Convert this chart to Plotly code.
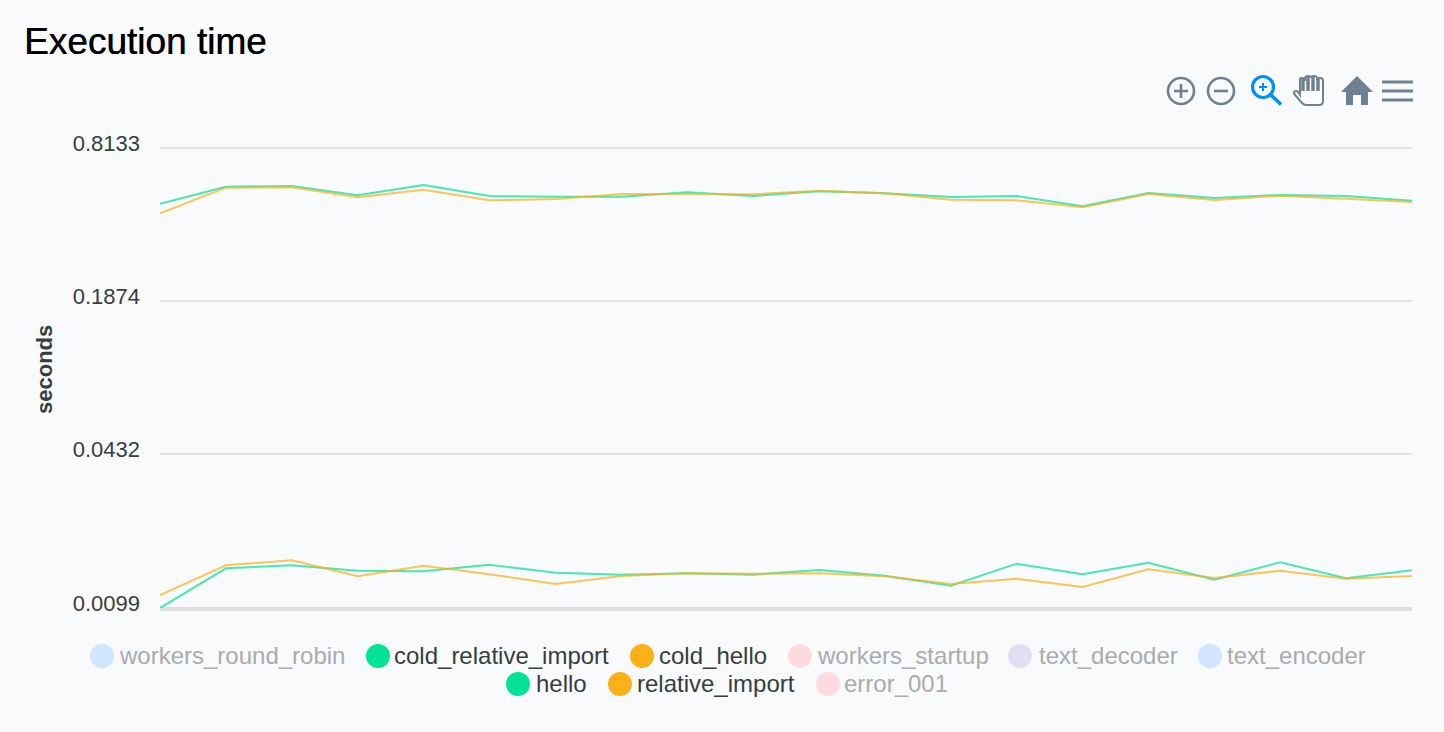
import base64
import plotly.graph_objects as go

TITLE = "Execution time"
Y_TITLE = "seconds"
runs = list(range(1, 21))
tick_vals = [0.8133, 0.1874, 0.0432, 0.0099]
tick_text = ["0.8133", "0.1874", "0.0432", "0.0099"]

cold_relative_import = [0.4769, 0.5613, 0.5651, 0.5169, 0.5705, 0.5135, 0.5100, 0.5100, 0.5320, 0.5135,
                        0.5370, 0.5268, 0.5085, 0.5135, 0.4651, 0.5284, 0.5037, 0.5184, 0.5135, 0.4908]
cold_hello = [0.4349, 0.5559, 0.5580, 0.5070, 0.5453, 0.4927, 0.4989, 0.5234, 0.5234, 0.5218,
              0.5402, 0.5268, 0.4955, 0.4927, 0.4607, 0.5234, 0.4941, 0.5148, 0.5003, 0.4847]
hello = [0.0099, 0.01448, 0.01491, 0.01415, 0.01407, 0.01499, 0.01389, 0.01362, 0.01381, 0.01362,
         0.01425, 0.01349, 0.01226, 0.01514, 0.01367, 0.01528, 0.01298, 0.01534, 0.01316, 0.01421]
relative_import = [0.01121, 0.01491, 0.01564, 0.01341, 0.01485, 0.01367, 0.01246, 0.01345, 0.01381, 0.01375,
                   0.01381, 0.01341, 0.01246, 0.01311, 0.01211, 0.01435, 0.01320, 0.01415, 0.01311, 0.01345]

legend_names = ["workers_round_robin", "cold_relative_import", "cold_hello", "workers_startup",
                "text_decoder", "text_encoder", "hello", "relative_import", "error_001"]
legend_colors = ["#CFE6FD", "#00E396", "#FEB019", "#FFDAE0", "#E2DFF5", "#CFE6FD", "#00E396", "#FEB019", "#FFDAE0"]
legend_on = [False, True, True, False, False, False, True, True, False]
legend_cx = [102, 378, 642, 800, 1020, 1210, 518, 620, 828]
legend_tx = [117, 392, 657, 815, 1037, 1225, 534, 635, 842]
legend_cy = [656, 656, 656, 656, 656, 656, 684, 684, 684]

W, H = 1444, 732
L, R, T, B = 160, 1412, 145, 608
BG = "#F9FAFC"
Y_RANGE = [-2.0044, -0.0773]


def px(x):
    return (x - L) / (R - L)


def py(y):
    return (B - y) / (B - T)


fig = go.Figure()
for name, vals, color in [("cold_relative_import", cold_relative_import, "#00E396"),
                          ("cold_hello", cold_hello, "#FEB019"),
                          ("hello", hello, "#00E396"),
                          ("relative_import", relative_import, "#FEB019")]:
    fig.add_trace(go.Scatter(x=runs, y=vals, mode="lines", name=name, opacity=0.72,
                             line=dict(color=color, width=2), showlegend=False, cliponaxis=False))

shapes, annotations = [], []
for name, color, on, cx, tx, cy in zip(legend_names, legend_colors, legend_on, legend_cx, legend_tx, legend_cy):
    shapes.append(dict(type="circle", xref="paper", yref="paper", layer="above",
                       x0=px(cx - 12), x1=px(cx + 12), y0=py(cy + 12), y1=py(cy - 12),
                       fillcolor=color, line=dict(width=0)))
    annotations.append(dict(text=name, xref="paper", yref="paper", x=px(tx), y=py(cy - 1),
                            xanchor="left", yanchor="middle", showarrow=False, align="left",
                            font=dict(family="Liberation Sans", size=24,
                                      color="#373D3F" if on else "#A9ABAD")))

annotations.append(dict(text="<b>" + Y_TITLE + "</b>", xref="paper", yref="paper", x=px(44), y=py(370),
                        xanchor="center", yanchor="middle", showarrow=False, textangle=-90,
                        font=dict(family="Liberation Sans", size=22, color="#373D3F")))

shapes.append(dict(type="line", xref="paper", yref="paper", x0=0, x1=1, y0=py(609), y1=py(609),
                   line=dict(color="#DEDFE1", width=4), layer="below"))

slate = "#6E8192"
svg = f'''<svg xmlns="http://www.w3.org/2000/svg" width="260" height="40" viewBox="1160 70 260 40">
<g fill="none" stroke="{slate}" stroke-width="2.6">
<circle cx="1181" cy="91" r="13"/><path d="M1174 91H1188M1181 84V98"/>
<circle cx="1221" cy="91" r="13"/><path d="M1214 91H1228"/>
</g>
<g fill="none" stroke="#008FFB">
<circle cx="1263" cy="87" r="10.5" stroke-width="3.2"/><path d="M1259 87H1267M1263 83V91" stroke-width="2"/>
<path d="M1271 95L1281 104.5" stroke-width="3.6"/>
</g>
<path d="M1306 105H1319Q1323 105 1323 101V81Q1323 78 1320 78T1317 81V78Q1317 76 1314 76T1311 78Q1311 76 1308 76T1305 79V81Q1305 78 1302 78T1300 81V95L1298 92Q1296 90 1294 92Q1294 95 1297 97L1302 103Q1304 105 1306 105Z" fill="#FFFFFF" stroke="{slate}" stroke-width="2"/>
<path d="M1303 79V91M1308 77V91M1313 77V91M1318 79V91" stroke="{slate}" stroke-width="3.4" fill="none"/>
<path d="M1357 76L1373 92H1368V105H1361V95H1353V105H1346V92H1341Z" fill="{slate}"/>
<path d="M1382 82H1413M1382 91H1413M1382 100H1413" stroke="{slate}" stroke-width="3" fill="none"/>
</svg>'''
toolbar = "data:image/svg+xml;base64," + base64.b64encode(svg.encode()).decode()

fig.update_layout(
    width=W, height=H, autosize=False,
    paper_bgcolor=BG, plot_bgcolor=BG,
    margin=dict(l=L, r=W - R, t=T, b=H - B, pad=0),
    showlegend=False,
    title=dict(text=TITLE, x=24 / W, xanchor="left", xref="container", y=1 - 41 / H, yref="container",
               yanchor="middle", font=dict(family="Liberation Sans", size=37, color="#000000",
                                           shadow="0.4px 0 0 #000000")),
    xaxis=dict(range=[runs[0], runs[-1]], showgrid=False, zeroline=False, showticklabels=False,
               ticks="", showline=False),
    yaxis=dict(type="log", range=Y_RANGE, tickmode="array", tickvals=tick_vals,
               ticktext=tick_text, showgrid=True, gridcolor="#E1E2E5", gridwidth=2, zeroline=False,
               showline=False, ticks="", ticklabelstandoff=19, ticklabelshift=-5,
               tickfont=dict(family="Liberation Sans", size=22, color="#373D3F")),
    shapes=shapes, annotations=annotations,
    images=[dict(source=toolbar, xref="paper", yref="paper", x=px(1160), y=py(70),
                 sizex=260 / (R - L), sizey=40 / (B - T), xanchor="left", yanchor="top",
                 sizing="stretch", layer="above")],
)
fig.write_html("out.html", config=dict(displayModeBar=False),
               post_script="document.body.style.margin='0';document.body.style.overflow='hidden';"
                           "document.body.style.background='" + BG + "';")
